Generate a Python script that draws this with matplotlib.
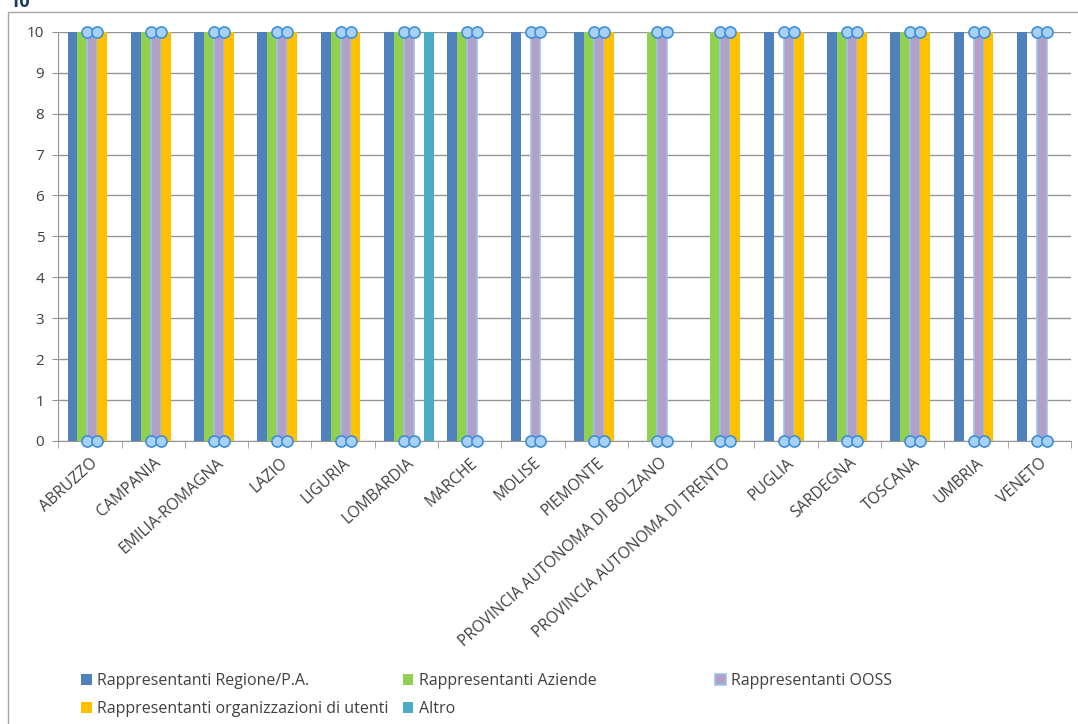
import matplotlib.pyplot as plt
import matplotlib.patches as mpatches
import numpy as np

plt.rcParams['font.family'] = ['Open Sans', 'DejaVu Sans']

regioni = ['ABRUZZO', 'CAMPANIA', 'EMILIA-ROMAGNA', 'LAZIO', 'LIGURIA', 'LOMBARDIA',
           'MARCHE', 'MOLISE', 'PIEMONTE', 'PROVINCIA AUTONOMA DI BOLZANO',
           'PROVINCIA AUTONOMA DI TRENTO', 'PUGLIA', 'SARDEGNA', 'TOSCANA', 'UMBRIA', 'VENETO']

regione_pa = [10, 10, 10, 10, 10, 10, 10, 10, 10, 0, 0, 10, 10, 10, 10, 10]
aziende    = [10, 10, 10, 10, 10, 10, 10, 0, 10, 10, 10, 0, 10, 10, 0, 0]
ooss       = [10, 10, 10, 10, 10, 10, 10, 10, 10, 10, 10, 10, 10, 10, 10, 10]
utenti     = [10, 10, 10, 10, 10, 0, 0, 0, 10, 0, 10, 10, 10, 10, 10, 0]
altro      = [0, 0, 0, 0, 0, 10, 0, 0, 0, 0, 0, 0, 0, 0, 0, 0]

series = [
    ('Rappresentanti Regione/P.A.', regione_pa, '#4F81BD'),
    ('Rappresentanti Aziende', aziende, '#92D050'),
    ('Rappresentanti OOSS', ooss, '#B1A0C7'),
    ('Rappresentanti organizzazioni di utenti', utenti, '#FFC000'),
    ('Altro', altro, '#4BACC6'),
]

txt = '#404040'
fig = plt.figure(figsize=(10.78, 7.24), dpi=100)
ax = fig.add_axes([0.054, 0.391, 0.9395, 0.565])

x = np.arange(len(regioni))
w = 0.157
handles = {}
for i, (name, vals, col) in enumerate(series):
    pos = x - 2 * w + i * w + 0.04
    if name == 'Rappresentanti OOSS':
        b = ax.bar(pos, vals, w, color=col, edgecolor='#9DC3E6', linewidth=1.2, zorder=3)
        # selection handles
        for px, v in zip(pos, vals):
            for yy in (0, v):
                ax.plot([px - w / 2, px + w / 2], [yy, yy], 'o', ms=8,
                        mfc='#A9D1F5', mec='#3E8FD8', mew=1.2, zorder=5, clip_on=False)
    else:
        b = ax.bar(pos, vals, w, color=col, linewidth=0, zorder=3)
    handles[name] = b

ax.set_xlim(-0.5, len(regioni) - 0.5)
ax.set_ylim(0, 10)
ax.set_yticks(range(11))
ax.yaxis.grid(True, color='#969696', linewidth=1)
ax.set_axisbelow(True)
ax.tick_params(axis='y', labelsize=11, colors=txt, length=4, color='#969696', pad=6)
ax.set_xticks(x)
ax.set_xticklabels(regioni, rotation=42, ha='right', rotation_mode='anchor', fontsize=11.3, color=txt)
ax.set_xticks(np.arange(-0.5, len(regioni)), minor=True)
ax.tick_params(axis='x', which='major', length=0, pad=10)
ax.tick_params(axis='x', which='minor', length=5, color='#969696')
for s in ['top', 'right']:
    ax.spines[s].set_visible(False)
for s in ['left', 'bottom']:
    ax.spines[s].set_color('#969696')

# legend in three columns
names = [s[0] for s in series]
cols = [[names[0], names[3]], [names[1], names[4]], [names[2]]]
xs = [0.068, 0.366, 0.656]
for cx, cn in zip(xs, cols):
    lg = fig.legend([handles[n] for n in cn], cn, loc='upper left', bbox_to_anchor=(cx, 0.081),
                    frameon=False, fontsize=11.5, handlelength=0.65, handleheight=0.65,
                    handletextpad=0.35, labelspacing=0.75, borderpad=0)
    for t in lg.get_texts():
        t.set_color(txt)

# outer chart border
fig.add_artist(mpatches.Rectangle((8 / 1078, -0.1), 1.2, 1 - 12 / 724 + 0.1,
                                  transform=fig.transFigure, fill=False,
                                  edgecolor='#A6A6A6', linewidth=1))
fig.text(0.009, 0.997, '10', color='#1F3864', fontsize=13, fontweight='bold', va='center')

fig.savefig('out.png', dpi=100)
